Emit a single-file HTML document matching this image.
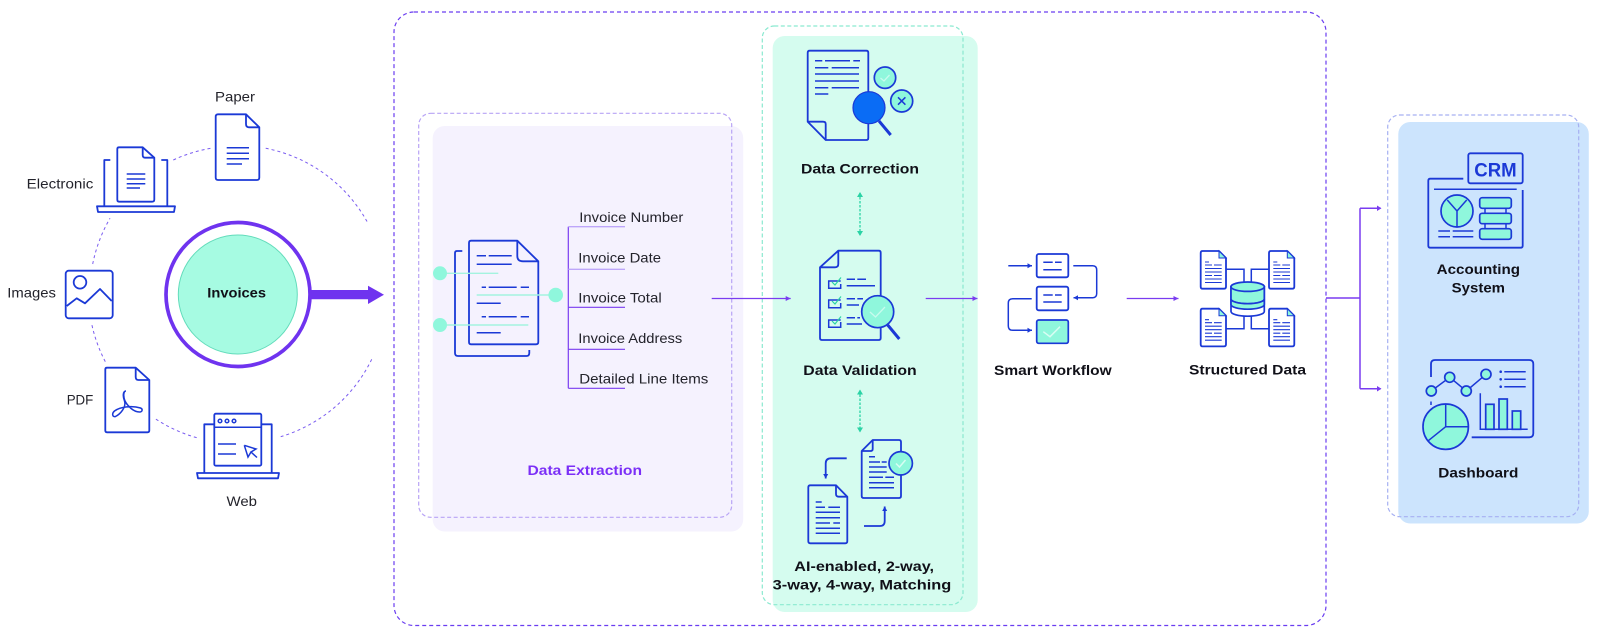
<!DOCTYPE html>
<html>
<head>
<meta charset="utf-8">
<style>
html,body{margin:0;padding:0;background:#fff}
svg{display:block;filter:blur(.3px)}
text{font-family:"Liberation Sans",sans-serif;font-size:14px;fill:#23232b}
.b{font-weight:bold;fill:#101018}
.i{fill:none;stroke:#1b39d6;stroke-width:1.8;stroke-linejoin:round;stroke-linecap:butt}
.k{fill:none;stroke:#1b39d6;stroke-width:1.5}
.f{fill:#8ff7dc;stroke:#1b39d6;stroke-width:1.7}
.a{fill:none;stroke:#7a3cf0;stroke-width:1.2}
.d{fill:none;stroke:#7a5cf0;stroke-width:1;stroke-dasharray:3 3}
</style>
</head>
<body>
<svg width="1600" height="639" viewBox="0 0 1600 639" xmlns="http://www.w3.org/2000/svg">
<defs>
<marker id="p" markerUnits="userSpaceOnUse" markerWidth="6" markerHeight="6" refX="5" refY="3" orient="auto"><path d="M0 .5L5 3L0 5.500z" fill="#7a3cf0"/></marker>
<marker id="u" markerUnits="userSpaceOnUse" markerWidth="6" markerHeight="6" refX="5" refY="3" orient="auto"><path d="M.5 .5L5 3L.5 5.500z" fill="#1b39d6"/></marker>
<marker id="g" markerUnits="userSpaceOnUse" markerWidth="6" markerHeight="6" refX="4" refY="3" orient="auto-start-reverse"><path d="M0 0L5 3L0 6z" fill="#2bd3a5"/></marker>
</defs>

<!-- Background containers -->
<rect x="394" y="12" width="932" height="613.500" rx="20" fill="none" stroke="#6a3df0" stroke-width="1.200" stroke-dasharray="4 3"/>
<rect x="432.700" y="126" width="310.500" height="405.500" rx="12" fill="#f5f2fe"/>
<rect x="418.700" y="113.300" width="313" height="404" rx="12" fill="none" stroke="#b8a4f5" stroke-width="1.200" stroke-dasharray="4 2.500"/>
<rect x="772.700" y="36" width="205" height="576" rx="12" fill="#d5fcef"/>
<rect x="762.300" y="26" width="200.700" height="578.700" rx="12" fill="none" stroke="#8ae9d0" stroke-width="1.200" stroke-dasharray="4 2.500"/>
<rect x="1398.300" y="122" width="190.500" height="401.500" rx="12" fill="#cce4fd"/>
<rect x="1387.700" y="115" width="191" height="401.700" rx="12" fill="none" stroke="#a6b0f2" stroke-width="1.200" stroke-dasharray="4 2.500"/>

<!-- Orbit arcs -->
<path class="d" d="M265.700 148.300A148.500 148.500 0 0 1 367.700 222.700"/>
<path class="d" d="M371.700 359.300A148.500 148.500 0 0 1 280.700 436.700"/>
<path class="d" d="M196.700 437.700A148.500 148.500 0 0 1 155.700 419"/>
<path class="d" d="M105.300 361.700A148.500 148.500 0 0 1 91.700 324"/>
<path class="d" d="M92.700 264A148.500 148.500 0 0 1 110 218.300"/>
<path class="d" d="M173.300 160A148.500 148.500 0 0 1 210.700 148.300"/>

<!-- Invoices circle -->
<circle cx="238" cy="294.500" r="72" fill="#fff" stroke="#6f33ef" stroke-width="3.700"/>
<circle cx="237.800" cy="294.500" r="59.500" fill="#a6fbe2" stroke="#63dcbb" stroke-width="1"/>
<text class="b" x="207.300" y="297.700" textLength="58.700" lengthAdjust="spacingAndGlyphs">Invoices</text>
<path d="M311 290H368V285.700L384 294.700L368 304V299.300H311z" fill="#6f33ef"/>

<!-- Paper -->
<text x="215" y="101.700" textLength="40" lengthAdjust="spacingAndGlyphs">Paper</text>
<path class="i" d="M218 114.300H246L259.300 127.300V177.500Q259.300 180 257 180H218Q215.700 180 215.700 177.500V116.800Q215.700 114.300 218 114.300z"/>
<path class="i" d="M246 114.300V124Q246 127.300 249 127.300H259.300"/>
<path class="k" d="M226.700 147.700H249M226.700 153.300H249M226.700 158.700H249M226.700 164H242"/>

<!-- Electronic -->
<text x="26.700" y="188.300" textLength="66.600" lengthAdjust="spacingAndGlyphs">Electronic</text>
<path class="i" d="M110.300 160H104.300V206.300M161.300 160H167.300V206.300"/>
<path class="i" d="M97 206.300H175L174 212H98z"/>
<path class="i" d="M119 147.300H142.700L154.300 157.700V199.500Q154.300 201.700 152 201.700H119Q117.300 201.700 117.300 199.500V149Q117.300 147.300 119 147.300z"/>
<path class="i" d="M142.700 147.300V155Q142.700 157.700 145 157.700H154.300"/>
<path class="k" d="M126.700 174H145.300M126.700 179H145.300M126.700 183.700H145.300M126.700 188H140"/>

<!-- Images -->
<text x="7.300" y="297.700" textLength="48.700" lengthAdjust="spacingAndGlyphs">Images</text>
<rect class="i" x="65.700" y="270.700" width="47" height="47.600" rx="3"/>
<circle class="i" cx="80" cy="282.300" r="6.300"/>
<path class="i" d="M66.700 306L76.700 298.300L85 303.300L100 289L111.700 301"/>

<!-- PDF -->
<text x="66.700" y="404.300" textLength="26.600" lengthAdjust="spacingAndGlyphs">PDF</text>
<path class="i" d="M107 367.700H135.700L149.300 380V430.500Q149.300 432.300 147.500 432.300H107Q105.300 432.300 105.300 430.500V369.500Q105.300 367.700 107 367.700z"/>
<path class="i" d="M135.700 367.700V377Q135.700 380 138.500 380H149.300"/>
<path class="k" d="M126 391c-3 0-3.500 5-1.500 10c2 6-4 13-9 15.500c-3 1-4-3-1-5.500c6-4.500 18-5.500 26-3c2.500 1 2 4-1 4c-6 0-12-6-14.500-11c-2-5-1.500-10 1-10z"/>

<!-- Web -->
<text x="226.500" y="506" textLength="30.500" lengthAdjust="spacingAndGlyphs">Web</text>
<path class="i" d="M214.300 424.300H204.300V473M261.300 424.300H271.700V473"/>
<path class="i" d="M197 473H279L278 478.300H198z"/>
<rect class="i" x="214.300" y="413.700" width="47" height="52" rx="1.500"/>
<path class="k" d="M214.300 427.300H261.300M218 444H236M218 454H236"/>
<circle class="k" cx="220" cy="421" r="1.800"/><circle class="k" cx="227" cy="421" r="1.800"/><circle class="k" cx="234" cy="421" r="1.800"/>
<path class="k" d="M244.300 445.300L256 449L251 452L257 457.500M244.300 445.300L248 457L251 452"/>

<!-- Data Extraction -->
<path class="i" d="M462.300 251H457Q455 251 455 253V353Q455 356 458 356H526.500Q529.300 356 529.300 353V350"/>
<path class="i" d="M471 240.700H517.300L538.300 261.300V342Q538.300 344.300 536 344.300H471Q469 344.300 469 342V243Q469 240.700 471 240.700z"/>
<path class="i" d="M517.300 240.700V256Q517.300 261.300 523 261.300H538.300"/>
<path class="k" d="M476.700 255.700H486M488.700 255.700H511.700M476.700 264.300H511.700M481.700 287.300H486M488.700 287.300H516.700M520.700 287.300H529M476.700 303.300H500.700M481.700 316.700H486M488.700 316.700H516.700M520.700 316.700H529M476.700 332.700H500.700"/>
<path d="M440 273.300H498.300M476.700 295H555.700M440 325H528.300" fill="none" stroke="#a3f3df" stroke-width="1.400"/>
<circle cx="440" cy="273.300" r="7" fill="#8ff7dc"/><circle cx="555.700" cy="295" r="7.300" fill="#8ff7dc"/><circle cx="440" cy="325" r="7" fill="#8ff7dc"/>
<path d="M568.300 226.700V388.300" fill="none" stroke="#7a3cf0" stroke-width="1.200"/>
<path d="M568.300 226.700H625M568.300 269.300H625" fill="none" stroke="#bda6fa" stroke-width="1.400"/>
<path d="M568.300 307.300H625M568.300 349.300H625M568.300 388.300H625" fill="none" stroke="#7a3cf0" stroke-width="1.200"/>
<text x="579.300" y="222" textLength="104" lengthAdjust="spacingAndGlyphs">Invoice Number</text>
<text x="578.300" y="262.300" textLength="82.700" lengthAdjust="spacingAndGlyphs">Invoice Date</text>
<text x="578.300" y="302.300" textLength="83.400" lengthAdjust="spacingAndGlyphs">Invoice Total</text>
<text x="578.300" y="343" textLength="104" lengthAdjust="spacingAndGlyphs">Invoice Address</text>
<text x="579.300" y="383.300" textLength="129" lengthAdjust="spacingAndGlyphs">Detailed Line Items</text>
<text class="b" x="527.500" y="475" textLength="114.500" lengthAdjust="spacingAndGlyphs" style="fill:#7b2ff7">Data Extraction</text>

<!-- Flow arrows -->
<path class="a" d="M711.700 298.500H790.700" marker-end="url(#p)"/>
<path class="a" d="M925.700 298.500H977.500" marker-end="url(#p)"/>
<path class="a" d="M1126.700 298.500H1178.500" marker-end="url(#p)"/>
<path d="M1326 298H1360M1360 208.300V388.700M1360 208.300H1380.700M1360 388.700H1380.700" fill="none" stroke="#7a3cf0" stroke-width="1.500"/>
<path d="M1377 205.500L1381.500 208.300L1377 211zM1377 386L1381.500 388.700L1377 391.500z" fill="#7a3cf0"/>

<!-- Data Correction -->
<path class="i" d="M809.700 50.700H866.300Q868.300 50.700 868.300 52.700V138Q868.300 140 866.300 140H825.700L807.700 121.700V52.700Q807.700 50.700 809.700 50.700z"/>
<path class="i" d="M807.700 121.700H823Q825.700 121.700 825.700 124V140"/>
<path class="k" d="M815 60.700H822.300M825 60.700H850M853.300 60.700H860M815 67.700H828.300M831.700 67.700H859M815 74H859M815 81H859M815 87.700H828.300M831.700 87.700H859M815 94H828.300"/>
<circle class="f" cx="885" cy="77.700" r="10.700"/>
<path d="M880.500 78L884 81L889.500 75" fill="none" stroke="#c9fbee" stroke-width="1.300"/>
<circle class="f" cx="901.700" cy="101" r="11"/>
<path class="k" d="M898 97.300L905.400 104.700M905.400 97.300L898 104.700"/>
<path d="M879 121L890.700 135" stroke="#1b39d6" stroke-width="3" fill="none"/>
<circle cx="869" cy="107.700" r="16" fill="#0a6cf5" stroke="#1b39d6" stroke-width="1.200"/>
<text class="b" x="801" y="173.300" textLength="118" lengthAdjust="spacingAndGlyphs">Data Correction</text>
<path d="M860 193V235" fill="none" stroke="#2bd3a5" stroke-width="1.300" stroke-dasharray="2.500 1.500" marker-start="url(#g)" marker-end="url(#g)"/>

<!-- Data Validation -->
<path class="i" d="M838.300 250.700H878.700Q880.700 250.700 880.700 252.700V338Q880.700 340 878.700 340H822Q820 340 820 338V267.300z"/>
<path class="i" d="M838.300 250.700V264Q838.300 267.300 835 267.300H820"/>
<path class="k" d="M840.700 281H828.700V288.300H840.700V284M840.700 300H828.700V307.700H840.700V303M840.700 320H828.700V327.300H840.700V322"/>
<path d="M832 282L835 285L841 277.500M832 301L835 304L841 296.500M832 321L835 324L841 316.500" fill="none" stroke="#2bd3a5" stroke-width="1.200"/>
<path class="k" d="M846.700 279.300H855M857.300 279.300H866M846.700 285.700H875M846.700 298.700H855M857.300 298.700H863M846.700 305H859M846.700 317.700H855M857.300 317.700H860M846.700 324H862"/>
<path d="M887.700 325L899.300 339" stroke="#1b39d6" stroke-width="3" fill="none"/>
<circle class="f" cx="877.700" cy="311.700" r="16"/>
<path d="M870 312L875.500 317L885 307" fill="none" stroke="#c9fbee" stroke-width="1.300"/>
<text class="b" x="803.300" y="375" textLength="113.400" lengthAdjust="spacingAndGlyphs">Data Validation</text>
<path d="M860 390.500V431.500" fill="none" stroke="#2bd3a5" stroke-width="1.300" stroke-dasharray="2.500 1.500" marker-start="url(#g)" marker-end="url(#g)"/>

<!-- Matching -->
<path class="i" d="M872.700 440H899Q901 440 901 442V496Q901 498 899 498H863.700Q861.700 498 861.700 496V451z"/>
<path class="i" d="M872.700 440V449Q872.700 451 870.500 451H861.700"/>
<path class="k" d="M869 456.700H875M869 462H880M881.700 462H886.700M869 467H886.700M869 472H886.700M869 477.300H883M885.300 477.300H894M869 482.700H894M869 487.700H894"/>
<circle class="f" cx="900.700" cy="463.300" r="11.700"/>
<path d="M896 463.500L899.500 467L905.500 460" fill="none" stroke="#d8fdf3" stroke-width="1.500"/>
<path class="i" d="M846.700 458.300H831Q825.700 458.300 825.700 463.500V478.500" marker-end="url(#u)"/>
<path class="i" d="M810.300 485.300H836L847.300 496.700V541.300Q847.300 543.300 845.300 543.300H810.300Q808.300 543.300 808.300 541.300V487.300Q808.300 485.300 810.300 485.300z"/>
<path class="i" d="M836 485.300V494Q836 496.700 838.700 496.700H847.300"/>
<path class="k" d="M815.700 502H821.700M815.700 507.300H825M828.300 507.300H840M815.700 512.300H840M815.700 517.700H840M815.700 523H830M833.300 523H840M815.700 528.300H840M815.700 533.300H840"/>
<path class="i" d="M864 526H880Q884.700 526 884.700 521V506.500" marker-end="url(#u)"/>
<text class="b" x="794.300" y="571" textLength="139.700" lengthAdjust="spacingAndGlyphs">AI-enabled, 2-way,</text>
<text class="b" x="772.700" y="589.300" textLength="178.600" lengthAdjust="spacingAndGlyphs">3-way, 4-way, Matching</text>

<!-- Smart Workflow -->
<rect class="i" x="1036.700" y="254" width="31.600" height="23.300" rx="2"/>
<rect class="i" x="1036.700" y="286.700" width="31.600" height="23.600" rx="2"/>
<rect class="f" x="1036.700" y="320" width="31.600" height="23.300" rx="2"/>
<path class="k" d="M1043.300 262.300H1052.700M1055 262.300H1061.700M1043.300 269.700H1061.700M1043.300 295H1052.700M1055 295H1061.700M1043.300 302H1061.700"/>
<path d="M1043.300 331.700L1050 336.700L1060 326.700" fill="none" stroke="#d8fdf3" stroke-width="1.500"/>
<path class="k" d="M1008.300 265.700H1032" marker-end="url(#u)"/>
<path class="k" d="M1073.300 265.700H1092.700Q1096.700 265.700 1096.700 270V293.500Q1096.700 297.700 1092.700 297.700H1073.500" marker-end="url(#u)"/>
<path class="k" d="M1031.700 298.700H1012.700Q1008.300 298.700 1008.300 303V326Q1008.300 330.300 1012.700 330.300H1032" marker-end="url(#u)"/>
<text class="b" x="994" y="375" textLength="117.700" lengthAdjust="spacingAndGlyphs">Smart Workflow</text>

<!-- Structured Data -->
<path class="k" d="M1226 269.300H1244V281.700M1269 269.300H1251.300V281.700M1226 328.700H1244V316M1269 328.700H1251.300V316"/>
<g id="sd">
<path class="i" d="M1202.500 251H1219L1226 258V286.700Q1226 288.700 1224 288.700H1202.500Q1200.700 288.700 1200.700 286.700V253Q1200.700 251 1202.500 251z"/>
<path d="M1219 251L1226 258H1219z" fill="#8ff7dc" stroke="#1b39d6" stroke-width="1"/>
<path class="k" d="M1205 262H1209M1205 265H1212M1214 265H1221.700M1205 268.500H1221.700M1205 272H1221.700M1205 275.500H1212M1214 275.500H1221.700M1205 279H1221.700M1205 282.500H1221.700" style="stroke-width:1.100"/>
</g>
<g transform="translate(68.300 0)">
<path class="i" d="M1202.500 251H1219L1226 258V286.700Q1226 288.700 1224 288.700H1202.500Q1200.700 288.700 1200.700 286.700V253Q1200.700 251 1202.500 251z"/>
<path d="M1219 251L1226 258H1219z" fill="#8ff7dc" stroke="#1b39d6" stroke-width="1"/>
<path class="k" d="M1205 262H1209M1205 265H1212M1214 265H1221.700M1205 268.500H1221.700M1205 272H1221.700M1205 275.500H1212M1214 275.500H1221.700M1205 279H1221.700M1205 282.500H1221.700" style="stroke-width:1.100"/>
</g>
<g transform="translate(0 57.700)">
<path class="i" d="M1202.500 251H1219L1226 258V286.700Q1226 288.700 1224 288.700H1202.500Q1200.700 288.700 1200.700 286.700V253Q1200.700 251 1202.500 251z"/>
<path d="M1219 251L1226 258H1219z" fill="#8ff7dc" stroke="#1b39d6" stroke-width="1"/>
<path class="k" d="M1205 262H1209M1205 265H1212M1214 265H1221.700M1205 268.500H1221.700M1205 272H1221.700M1205 275.500H1212M1214 275.500H1221.700M1205 279H1221.700M1205 282.500H1221.700" style="stroke-width:1.100"/>
</g>
<g transform="translate(68.300 57.700)">
<path class="i" d="M1202.500 251H1219L1226 258V286.700Q1226 288.700 1224 288.700H1202.500Q1200.700 288.700 1200.700 286.700V253Q1200.700 251 1202.500 251z"/>
<path d="M1219 251L1226 258H1219z" fill="#8ff7dc" stroke="#1b39d6" stroke-width="1"/>
<path class="k" d="M1205 262H1209M1205 265H1212M1214 265H1221.700M1205 268.500H1221.700M1205 272H1221.700M1205 275.500H1212M1214 275.500H1221.700M1205 279H1221.700M1205 282.500H1221.700" style="stroke-width:1.100"/>
</g>
<path d="M1231 286.700V311.500A16.650 4.700 0 0 0 1264.300 311.500V286.700z" fill="#fff" stroke="#1b39d6" stroke-width="1.700"/>
<path d="M1231 286.700V299A16.650 4.700 0 0 0 1264.300 299V286.700z" fill="#8ff7dc" stroke="#1b39d6" stroke-width="1.700"/>
<path d="M1231 299V304.500A16.650 4.700 0 0 0 1264.300 304.500V299A16.650 4.700 0 0 1 1231 299z" fill="#8ff7dc" stroke="#1b39d6" stroke-width="1.700"/>
<ellipse cx="1247.650" cy="286.700" rx="16.650" ry="4.700" fill="#8ff7dc" stroke="#1b39d6" stroke-width="1.700"/>
<text class="b" x="1189" y="374.300" textLength="117" lengthAdjust="spacingAndGlyphs">Structured Data</text>

<!-- Accounting System -->
<rect class="i" x="1468.300" y="153.300" width="54.400" height="30" rx="2"/>
<text x="1474.300" y="176.700" textLength="42.400" lengthAdjust="spacingAndGlyphs" style="font-size:19px;font-weight:bold;fill:#1b39d6">CRM</text>
<path class="i" d="M1463.300 178.700H1430.300Q1428.300 178.700 1428.300 180.700V245.700Q1428.300 247.700 1430.300 247.700H1520.700Q1522.700 247.700 1522.700 245.700V190"/>
<path class="k" d="M1434 189.300H1516.700"/>
<circle class="f" cx="1457" cy="211" r="16"/>
<path class="k" d="M1447.300 200L1457 211L1466.700 200M1457 211V227"/>
<path class="k" d="M1485 205V232M1506 205V232" />
<rect class="f" x="1479.700" y="197.700" width="31.600" height="10.600" rx="2.500"/>
<rect class="f" x="1479.700" y="213.300" width="31.600" height="10.400" rx="2.500"/>
<rect class="f" x="1479.700" y="228.700" width="31.600" height="10.600" rx="2.500"/>
<path class="k" d="M1438.300 231H1450M1452.700 231H1473.300M1438.300 236.700H1450M1452.700 236.700H1473.300"/>
<text class="b" x="1436.700" y="274" textLength="83.300" lengthAdjust="spacingAndGlyphs">Accounting</text>
<text class="b" x="1451.700" y="292.300" textLength="53.300" lengthAdjust="spacingAndGlyphs">System</text>

<!-- Dashboard -->
<path class="i" d="M1431 377V364Q1431 360 1435 360H1529.300Q1533.300 360 1533.300 364V433.300Q1533.300 437.300 1529.300 437.300H1471.700"/>
<path class="k" d="M1431 401.500V405"/>
<path class="k" d="M1431.300 391L1449.700 377.300L1466.300 391L1486 374.300"/>
<circle class="f" cx="1431.300" cy="391" r="5"/><circle class="f" cx="1449.700" cy="377.300" r="5"/><circle class="f" cx="1466.300" cy="391" r="5"/><circle class="f" cx="1486" cy="374.300" r="5"/>
<circle cx="1500.700" cy="371.700" r="1.300" fill="#1b39d6"/><circle cx="1500.700" cy="379.300" r="1.300" fill="#1b39d6"/><circle cx="1500.700" cy="386.700" r="1.300" fill="#1b39d6"/>
<path class="k" d="M1504.300 371.700H1525.700M1504.300 379.300H1525.700M1504.300 386.700H1525.700"/>
<path class="k" d="M1480.300 393.300V429.300H1527.700"/>
<rect class="f" x="1485.700" y="404.300" width="8.300" height="25"/>
<rect class="f" x="1499" y="399" width="8.300" height="30.300"/>
<rect class="f" x="1512.300" y="411" width="8.400" height="18.300"/>
<circle class="f" cx="1445.700" cy="426.700" r="22.700"/>
<path class="k" d="M1445.700 404V426.700H1468.400M1445.700 426.700L1428.300 440.700"/>
<text class="b" x="1438.300" y="477.700" textLength="80" lengthAdjust="spacingAndGlyphs">Dashboard</text>
</svg>
</body>
</html>
